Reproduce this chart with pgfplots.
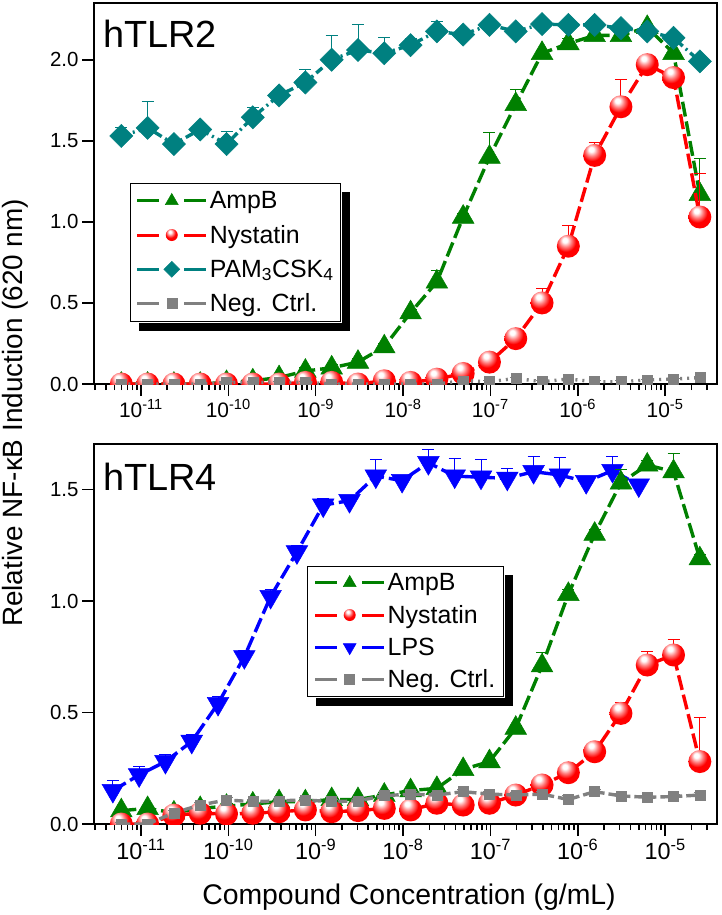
\documentclass[border=0pt]{standalone}
\usepackage{fontspec}
\setmainfont{Liberation Sans}
\usepackage{pgfplots}
\pgfplotsset{compat=1.18}
\usepackage{pgfplotstable}

\definecolor{cgreen}{RGB}{0,128,0}
\definecolor{cred}{RGB}{255,0,0}
\definecolor{cteal}{RGB}{0,128,128}
\definecolor{cblue}{RGB}{0,0,255}
\definecolor{cgray}{RGB}{128,128,128}

\pgfdeclareradialshading{redball}{\pgfpoint{-8bp}{14bp}}{color(0bp)=(white); color(5bp)=(white); color(13bp)=(cred!50!white); color(22bp)=(cred); color(50bp)=(cred); color(60bp)=(cred!82!black); color(75bp)=(cred!65!black)}
\pgfdeclareplotmark{rball}{\pgfpathcircle{\pgfpointorigin}{\pgfplotmarksize}\pgfshadepath{redball}{0}\pgfusepath{}}

\pgfplotstableread{
x amp ampe nys nyse pam pame neg nege
5.96e-12  0.00 0.01  0.00 0.01   1.53 0.05  0.00 0.005
1.192e-11 0.00 0.01  0.00 0.01   1.58 0.16  0.00 0.005
2.384e-11 0.00 0.01  0.00 0.01   1.48 0.02  0.00 0.005
4.768e-11 0.00 0.01  0.00 0.01   1.57 0.02  0.00 0.005
9.537e-11 0.01 0.01  0.00 0.01   1.48 0.08  0.01 0.005
1.907e-10 0.02 0.02  0.00 0.01   1.645 0.06 0.01 0.005
3.815e-10 0.04 0.02  0.00 0.02   1.78 0.02  0.01 0.005
7.629e-10 0.08 0.02  0.01 0.01   1.86 0.08  0.01 0.005
1.526e-9  0.10 0.02  0.01 0.01   2.00 0.15  0.00 0.005
3.052e-9  0.135 0.02 0.00 0.01   2.06 0.16  0.00 0.005
6.104e-9  0.23 0.02  0.02 0.01   2.04 0.10  0.00 0.005
1.221e-8  0.44 0.02  0.01 0.01   2.09 0.04  0.00 0.005
2.441e-8  0.63 0.07  0.03 0.02   2.175 0.06 0.00 0.005
4.883e-8  1.03 0.02  0.065 0.02  2.155 0.02 0.02 0.005
9.766e-8  1.40 0.15  0.135 0.02  2.215 0.02 0.014 0.005
1.953e-7  1.725 0.09 0.28 0.03   2.175 0.02 0.035 0.005
3.906e-7  2.04 0.02  0.50 0.09   2.22 0.02  0.014 0.005
7.813e-7  2.10 0.03  0.85 0.13   2.215 0.03 0.031 0.005
1.563e-6  2.15 0.03  1.41 0.08   2.215 0.03 0.014 0.005
3.125e-6  2.15 0.03  1.71 0.17   2.195 0.02 0.014 0.005
6.25e-6   2.20 0.02  1.97 0.01   2.175 0.02 0.025 0.005
1.25e-5   2.04 0.06  1.89 0.02   2.135 0.02 0.031 0.005
2.5e-5    1.17 0.22  1.03 0.27   1.99 0.02  0.039 0.005
}\toptable

\pgfplotstableread{
x amp ampe nys nyse neg nege
5.96e-12  0.06 0.01  0.00 0.01   0.00 0.005
1.192e-11 0.07 0.01  0.00 0.01   0.00 0.005
2.384e-11 0.05 0.01  0.04 0.02   0.05 0.01
4.768e-11 0.07 0.01  0.048 0.02  0.085 0.01
9.537e-11 0.08 0.01  0.045 0.02  0.108 0.01
1.907e-10 0.09 0.01  0.048 0.02  0.10 0.01
3.815e-10 0.10 0.01  0.055 0.02  0.104 0.01
7.629e-10 0.10 0.01  0.063 0.02  0.108 0.01
1.526e-9  0.11 0.01  0.055 0.02  0.10 0.01
3.052e-9  0.11 0.01  0.06 0.02   0.104 0.01
6.104e-9  0.13 0.01  0.07 0.02   0.127 0.01
1.221e-8  0.15 0.01  0.063 0.02  0.134 0.01
2.441e-8  0.16 0.01  0.093 0.02  0.13 0.01
4.883e-8  0.245 0.01 0.085 0.02  0.145 0.01
9.766e-8  0.28 0.01  0.093 0.02  0.134 0.01
1.953e-7  0.43 0.01  0.13 0.02   0.13 0.01
3.906e-7  0.71 0.06  0.175 0.02  0.134 0.01
7.813e-7  1.03 0.02  0.23 0.02   0.11 0.02
1.563e-6  1.30 0.02  0.324 0.02  0.145 0.01
3.125e-6  1.53 0.06  0.496 0.05  0.126 0.01
6.25e-6   1.61 0.02  0.713 0.06  0.12 0.01
1.25e-5   1.58 0.08  0.758 0.07  0.123 0.01
2.5e-5    1.19 0.02  0.28 0.20   0.13 0.01
}\bottable

\pgfplotstableread{
x lps lpse
4.768e-12 0.15 0.045
9.537e-12 0.22 0.04
1.907e-11 0.28 0.03
3.815e-11 0.37 0.03
7.629e-11 0.54 0.03
1.526e-10 0.75 0.03
3.052e-10 1.02 0.03
6.104e-10 1.22 0.03
1.221e-9  1.43 0.03
2.441e-9  1.45 0.02
4.883e-9  1.56 0.075
9.766e-9  1.54 0.02
1.953e-8  1.62 0.06
3.906e-8  1.56 0.08
7.813e-8  1.555 0.08
1.563e-7  1.55 0.045
3.125e-7  1.58 0.067
6.25e-7   1.565 0.08
1.25e-6   1.535 0.02
2.5e-6    1.585 0.065
5e-6      1.52 0.02
}\lpstable

\pgfplotsset{
  legend image code/.code={
    \draw[#1, solid, mark=none, line width=3bp] (0bp,0bp) -- (22bp,0bp) (47bp,0bp) -- (69bp,0bp);
    \draw[#1, line width=0.5bp] plot coordinates {(34.5bp,0bp)};
  },
  ampst/.style={cgreen, line width=3.4bp, dash pattern=on 15bp off 5bp, mark=triangle*, mark size=12.5bp,
    mark options={solid, fill=cgreen, draw=cgreen, line width=0.5bp}},
  nysst/.style={cred, line width=3.4bp, dash pattern=on 15bp off 5bp, mark=rball, mark size=11.5bp,
    mark options={solid}},
  pamst/.style={cteal, line width=3.4bp, dash pattern=on 8bp off 4bp on 2bp off 4bp, mark=square*, mark size=8.2bp,
    mark options={solid, rotate=45, fill=cteal, draw=cteal, line width=0.5bp}},
  lpsst/.style={cblue, line width=3.4bp, dash pattern=on 15bp off 5bp, mark=triangle*, mark size=12.5bp,
    mark options={solid, rotate=180, fill=cblue, draw=cblue, line width=0.5bp}},
  negst/.style={cgray, line width=3.4bp, dash pattern=on 9bp off 4bp, mark=square*, mark size=5bp,
    mark options={solid, fill=cgray, draw=cgray, line width=0.5bp}},
  ebar/.style={/pgfplots/error bars/y dir=plus, /pgfplots/error bars/y explicit,
    /pgfplots/error bars/error bar style={line width=0.9bp, solid},
    /pgfplots/error bars/error mark options={rotate=90, mark size=6bp, line width=0.9bp, solid}},
}

\begin{document}
\begin{tikzpicture}
\path[use as bounding box] (0bp,0bp) rectangle (722bp,-915bp);

% ---------------- top panel ----------------
\begin{axis}[at={(94bp,-384bp)}, anchor=south west,
    scale only axis, width=623bp, height=381bp,
    xmode=log, xmin=2.9e-12, xmax=3.93e-5,
    ymin=0, ymax=2.35, ytick={0,0.5,1.0,1.5,2.0},
    xtick={1e-11,1e-10,1e-9,1e-8,1e-7,1e-6,1e-5},
    xticklabels={10\textsuperscript{-11},10\textsuperscript{-10},10\textsuperscript{-9},10\textsuperscript{-8},10\textsuperscript{-7},10\textsuperscript{-6},10\textsuperscript{-5}},
    minor xtick={3e-12,4e-12,5e-12,6e-12,7e-12,8e-12,9e-12,
      2e-11,3e-11,4e-11,5e-11,6e-11,7e-11,8e-11,9e-11,
      2e-10,3e-10,4e-10,5e-10,6e-10,7e-10,8e-10,9e-10,
      2e-9,3e-9,4e-9,5e-9,6e-9,7e-9,8e-9,9e-9,
      2e-8,3e-8,4e-8,5e-8,6e-8,7e-8,8e-8,9e-8,
      2e-7,3e-7,4e-7,5e-7,6e-7,7e-7,8e-7,9e-7,
      2e-6,3e-6,4e-6,5e-6,6e-6,7e-6,8e-6,9e-6,
      2e-5,3e-5},
    xtick pos=bottom, ytick pos=left, tick align=outside,
    major tick length=12bp, minor tick length=6bp,
    tick style={black, line width=1.6bp},
    axis line style={line width=2bp},
    xticklabel style={font=\fontsize{21}{25}\selectfont},
    yticklabel style={font=\fontsize{20.5}{25}\selectfont, /pgf/number format/fixed, /pgf/number format/fixed zerofill,
      /pgf/number format/precision=1, /pgf/number format/assume math mode=true},
    clip mode=individual, clip marker paths=true,
    legend cell align=left,
    legend style={name=legA, at={(rel axis cs:0.058,0.5276)}, anchor=north west,
      draw=black, line width=1.3bp, fill=white,
      font=\fontsize{25}{29}\selectfont, inner xsep=5bp, inner ysep=6bp, row sep=11bp,
      nodes={inner sep=2bp}}]
\addlegendimage{ampst, mark size=7.5bp}
\addlegendentry{AmpB}
\addlegendimage{nysst, mark size=6bp}
\addlegendentry{Nystatin}
\addlegendimage{pamst, mark size=5.6bp}
\addlegendentry{PAM\textsubscript{3}CSK\textsubscript{4}}
\addlegendimage{negst, mark size=5bp}
\addlegendentry{Neg. Ctrl.}
\addplot[ampst, forget plot, ebar] table[x=x, y=amp, y error=ampe]{\toptable};
\addplot[nysst, forget plot, ebar] table[x=x, y=nys, y error=nyse]{\toptable};
\addplot[negst, dash pattern=on 2bp off 5bp, forget plot, ebar] table[x=x, y=neg, y error=nege]{\toptable};
\addplot[pamst, forget plot, ebar] table[x=x, y=pam, y error=pame]{\toptable};
\node[anchor=north west, inner sep=0pt, font=\fontsize{38}{42}\selectfont] at ([xshift=9bp, yshift=-17bp]rel axis cs:0,1) {hTLR2};
\end{axis}
\fill[black] ([xshift=0.65bp, yshift=-9bp]legA.north east) rectangle ([xshift=9bp, yshift=-9bp]legA.south east);
\fill[black] ([xshift=9bp, yshift=-0.65bp]legA.south west) rectangle ([xshift=9bp, yshift=-9bp]legA.south east);

% ---------------- bottom panel ----------------
\begin{axis}[at={(94bp,-824bp)}, anchor=south west,
    scale only axis, width=623bp, height=380bp,
    xmode=log, xmin=2.9e-12, xmax=3.93e-5,
    ymin=0, ymax=1.704, ytick={0,0.5,1.0,1.5},
    xtick={1e-11,1e-10,1e-9,1e-8,1e-7,1e-6,1e-5},
    xticklabels={10\textsuperscript{-11},10\textsuperscript{-10},10\textsuperscript{-9},10\textsuperscript{-8},10\textsuperscript{-7},10\textsuperscript{-6},10\textsuperscript{-5}},
    minor xtick={3e-12,4e-12,5e-12,6e-12,7e-12,8e-12,9e-12,
      2e-11,3e-11,4e-11,5e-11,6e-11,7e-11,8e-11,9e-11,
      2e-10,3e-10,4e-10,5e-10,6e-10,7e-10,8e-10,9e-10,
      2e-9,3e-9,4e-9,5e-9,6e-9,7e-9,8e-9,9e-9,
      2e-8,3e-8,4e-8,5e-8,6e-8,7e-8,8e-8,9e-8,
      2e-7,3e-7,4e-7,5e-7,6e-7,7e-7,8e-7,9e-7,
      2e-6,3e-6,4e-6,5e-6,6e-6,7e-6,8e-6,9e-6,
      2e-5,3e-5},
    xtick pos=bottom, ytick pos=left, tick align=outside,
    major tick length=12bp, minor tick length=6bp,
    tick style={black, line width=1.6bp},
    axis line style={line width=2bp},
    xticklabel style={font=\fontsize{23.5}{27}\selectfont},
    yticklabel style={font=\fontsize{20.5}{25}\selectfont, /pgf/number format/fixed, /pgf/number format/fixed zerofill,
      /pgf/number format/precision=1, /pgf/number format/assume math mode=true},
    clip mode=individual, clip marker paths=true,
    legend cell align=left,
    legend style={name=legB, at={(rel axis cs:0.342,0.679)}, anchor=north west,
      draw=black, line width=1.3bp, fill=white,
      font=\fontsize{25}{29}\selectfont, inner xsep=6bp, inner ysep=5bp, row sep=9bp,
      nodes={inner sep=2bp}}]
\addlegendimage{ampst, mark size=7.5bp}
\addlegendentry{AmpB}
\addlegendimage{nysst, mark size=6bp}
\addlegendentry{Nystatin}
\addlegendimage{lpsst, mark size=7.5bp}
\addlegendentry{LPS}
\addlegendimage{negst, mark size=5bp}
\addlegendentry{Neg. Ctrl.}
\addplot[lpsst, forget plot, ebar] table[x=x, y=lps, y error=lpse]{\lpstable};
\addplot[ampst, forget plot, ebar] table[x=x, y=amp, y error=ampe]{\bottable};
\addplot[nysst, forget plot, ebar] table[x=x, y=nys, y error=nyse]{\bottable};
\addplot[negst, forget plot, ebar] table[x=x, y=neg, y error=nege]{\bottable};
\node[anchor=north west, inner sep=0pt, font=\fontsize{38}{42}\selectfont] at ([xshift=9bp, yshift=-19bp]rel axis cs:0,1) {hTLR4};
\end{axis}
\fill[black] ([xshift=0.65bp, yshift=-9bp]legB.north east) rectangle ([xshift=9bp, yshift=-9bp]legB.south east);
\fill[black] ([xshift=9bp, yshift=-0.65bp]legB.south west) rectangle ([xshift=9bp, yshift=-9bp]legB.south east);

\node[rotate=90, anchor=base, font=\fontsize{28}{32}\selectfont] at (22bp,-413bp) {Relative NF-κB Induction (620 nm)};
\node[anchor=base, font=\fontsize{28.5}{32}\selectfont] at (409bp,-904bp) {Compound Concentration (g/mL)};
\end{tikzpicture}
\end{document}
